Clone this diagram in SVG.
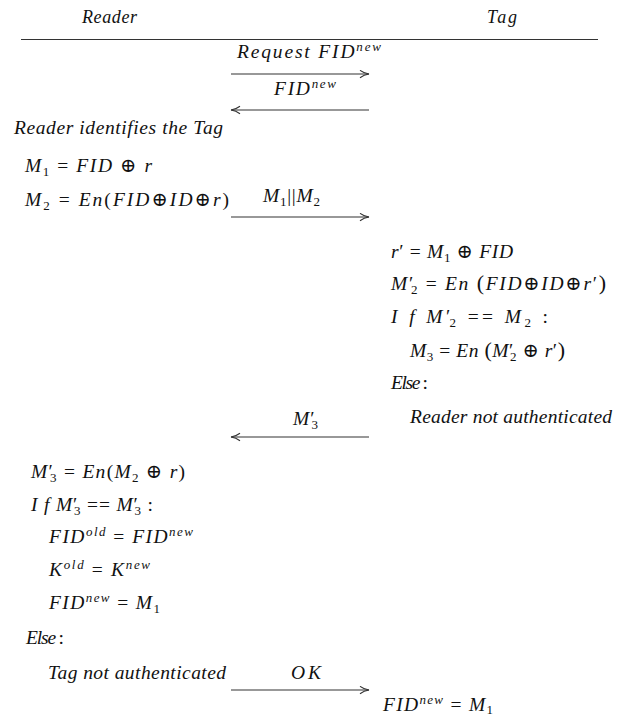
<svg xmlns="http://www.w3.org/2000/svg" width="628" height="718" viewBox="0 0 628 718">
<defs>
<marker id="ah" markerWidth="12" markerHeight="10" refX="10" refY="4.5" orient="auto" markerUnits="userSpaceOnUse">
<path d="M1,0.8 Q5,3.8 10,4.5 Q5,5.2 1,8.2" fill="none" stroke="#333" stroke-width="1.1"/>
</marker>
<style>
text{font-family:"Liberation Serif","DejaVu Serif",serif;font-size:19.5px;font-style:italic;fill:#111}
.h{font-size:18px}
.u{font-style:normal}
.sb{font-size:13px;font-style:normal}
.sp{font-size:13px;font-style:italic}
.bp{font-style:normal;font-size:22px}
.conn line{stroke:#333;stroke-width:1.2;marker-end:url(#ah)}
.rule{stroke:#333;stroke-width:1.2}
</style>
</defs>
<rect width="628" height="718" fill="#fff"/>

<g id="reader-header"><text class="h" x="82" y="23" textLength="55">Reader</text></g>
<g id="tag-header"><text class="h" x="487" y="23" textLength="30">Tag</text></g>
<line class="rule" x1="21" y1="39.5" x2="598" y2="39.5"/>

<g id="msg-request"><text x="237" y="58" textLength="144">Request FID<tspan class="sp" dy="-7">new</tspan></text></g>
<g id="msg-fid"><text x="274" y="95" textLength="62">FID<tspan class="sp" dy="-7">new</tspan></text></g>

<g id="reader-identify"><text x="14" y="134" textLength="209">Reader identifies the Tag</text></g>

<g id="reader-compute">
<text x="25" y="172" textLength="127">M<tspan class="sb" dy="4">1</tspan><tspan class="u" dy="-4"> = </tspan>FID<tspan class="u">  ⊕  </tspan>r</text>
<text x="25" y="206" textLength="204">M<tspan class="sb" dy="4">2</tspan><tspan class="u" dy="-4"> = </tspan>En<tspan class="u">(</tspan>FID<tspan class="u">⊕</tspan>ID<tspan class="u">⊕</tspan>r<tspan class="u">)</tspan></text>
</g>
<g id="msg-m1m2"><text x="263" y="202" textLength="57">M<tspan class="sb" dy="4">1</tspan><tspan class="u" dy="-4">||</tspan>M<tspan class="sb" dy="4">2</tspan></text></g>

<g id="tag-verify">
<text x="391" y="258" textLength="122">r<tspan class="u">′ = </tspan>M<tspan class="sb" dy="4">1</tspan><tspan class="u" dy="-4"> ⊕ </tspan>FID</text>
<text x="391" y="290" textLength="215">M<tspan class="u">′</tspan><tspan class="sb" dx="-4" dy="4">2</tspan><tspan class="u" dy="-4"> = </tspan>En <tspan class="bp">(</tspan>FID<tspan class="u">⊕</tspan>ID<tspan class="u">⊕</tspan>r<tspan class="u">′</tspan><tspan class="bp">)</tspan></text>
<text x="391" y="323" textLength="157">I f M<tspan class="u">′</tspan><tspan class="sb" dx="-4" dy="4">2</tspan><tspan class="u" dy="-4"> ==  </tspan>M<tspan class="sb" dy="4">2</tspan><tspan class="u" dy="-4"> :</tspan></text>
<text x="410" y="357" textLength="155">M<tspan class="sb" dy="4">3</tspan><tspan class="u" dy="-4"> = </tspan>En <tspan class="bp">(</tspan>M<tspan class="u">′</tspan><tspan class="sb" dx="-4" dy="4">2</tspan><tspan class="u" dy="-4"> ⊕ </tspan>r<tspan class="u">′</tspan><tspan class="bp">)</tspan></text>
<text x="391" y="389" textLength="37">Else<tspan class="u"> :</tspan></text>
<text x="410" y="423" textLength="202">Reader not authenticated</text>
</g>

<g id="msg-m3"><text x="293" y="425" textLength="25">M<tspan class="u">′</tspan><tspan class="sb" dx="-4" dy="4">3</tspan></text></g>

<g id="reader-verify">
<text x="31" y="478" textLength="154">M<tspan class="u">′</tspan><tspan class="sb" dx="-4" dy="4">3</tspan><tspan class="u" dy="-4"> = </tspan>En<tspan class="u">(</tspan>M<tspan class="sb" dy="4">2</tspan><tspan class="u" dy="-4"> ⊕ </tspan>r<tspan class="u">)</tspan></text>
<text x="31" y="511" textLength="122">I f M<tspan class="u">′</tspan><tspan class="sb" dx="-4" dy="4">3</tspan><tspan class="u" dy="-4"> == </tspan>M<tspan class="u">′</tspan><tspan class="sb" dx="-4" dy="4">3</tspan><tspan class="u" dy="-4"> :</tspan></text>
<text x="49" y="543" textLength="144">FID<tspan class="sp" dy="-7">old</tspan><tspan class="u" dy="7"> = </tspan>FID<tspan class="sp" dy="-7">new</tspan></text>
<text x="49" y="576" textLength="101">K<tspan class="sp" dy="-7">old</tspan><tspan class="u" dy="7"> = </tspan>K<tspan class="sp" dy="-7">new</tspan></text>
<text x="49" y="609" textLength="111">FID<tspan class="sp" dy="-7">new</tspan><tspan class="u" dy="7"> = </tspan>M<tspan class="sb" dy="4">1</tspan></text>
<text x="26" y="644" textLength="38">Else<tspan class="u"> :</tspan></text>
<text x="48" y="679" textLength="178">Tag not authenticated</text>
</g>

<g id="msg-ok"><text x="291" y="679" textLength="30">OK</text></g>

<g id="tag-update"><text x="383" y="711" textLength="110">FID<tspan class="sp" dy="-7">new</tspan><tspan class="u" dy="7"> = </tspan>M<tspan class="sb" dy="3">1</tspan></text></g>

<g id="connectors" class="conn">
<line x1="231" y1="74" x2="369" y2="74"/>
<line x1="369" y1="110" x2="231" y2="110"/>
<line x1="231" y1="217" x2="369" y2="217"/>
<line x1="369" y1="437" x2="231" y2="437"/>
<line x1="231" y1="690" x2="369" y2="690"/>
</g>
</svg>
